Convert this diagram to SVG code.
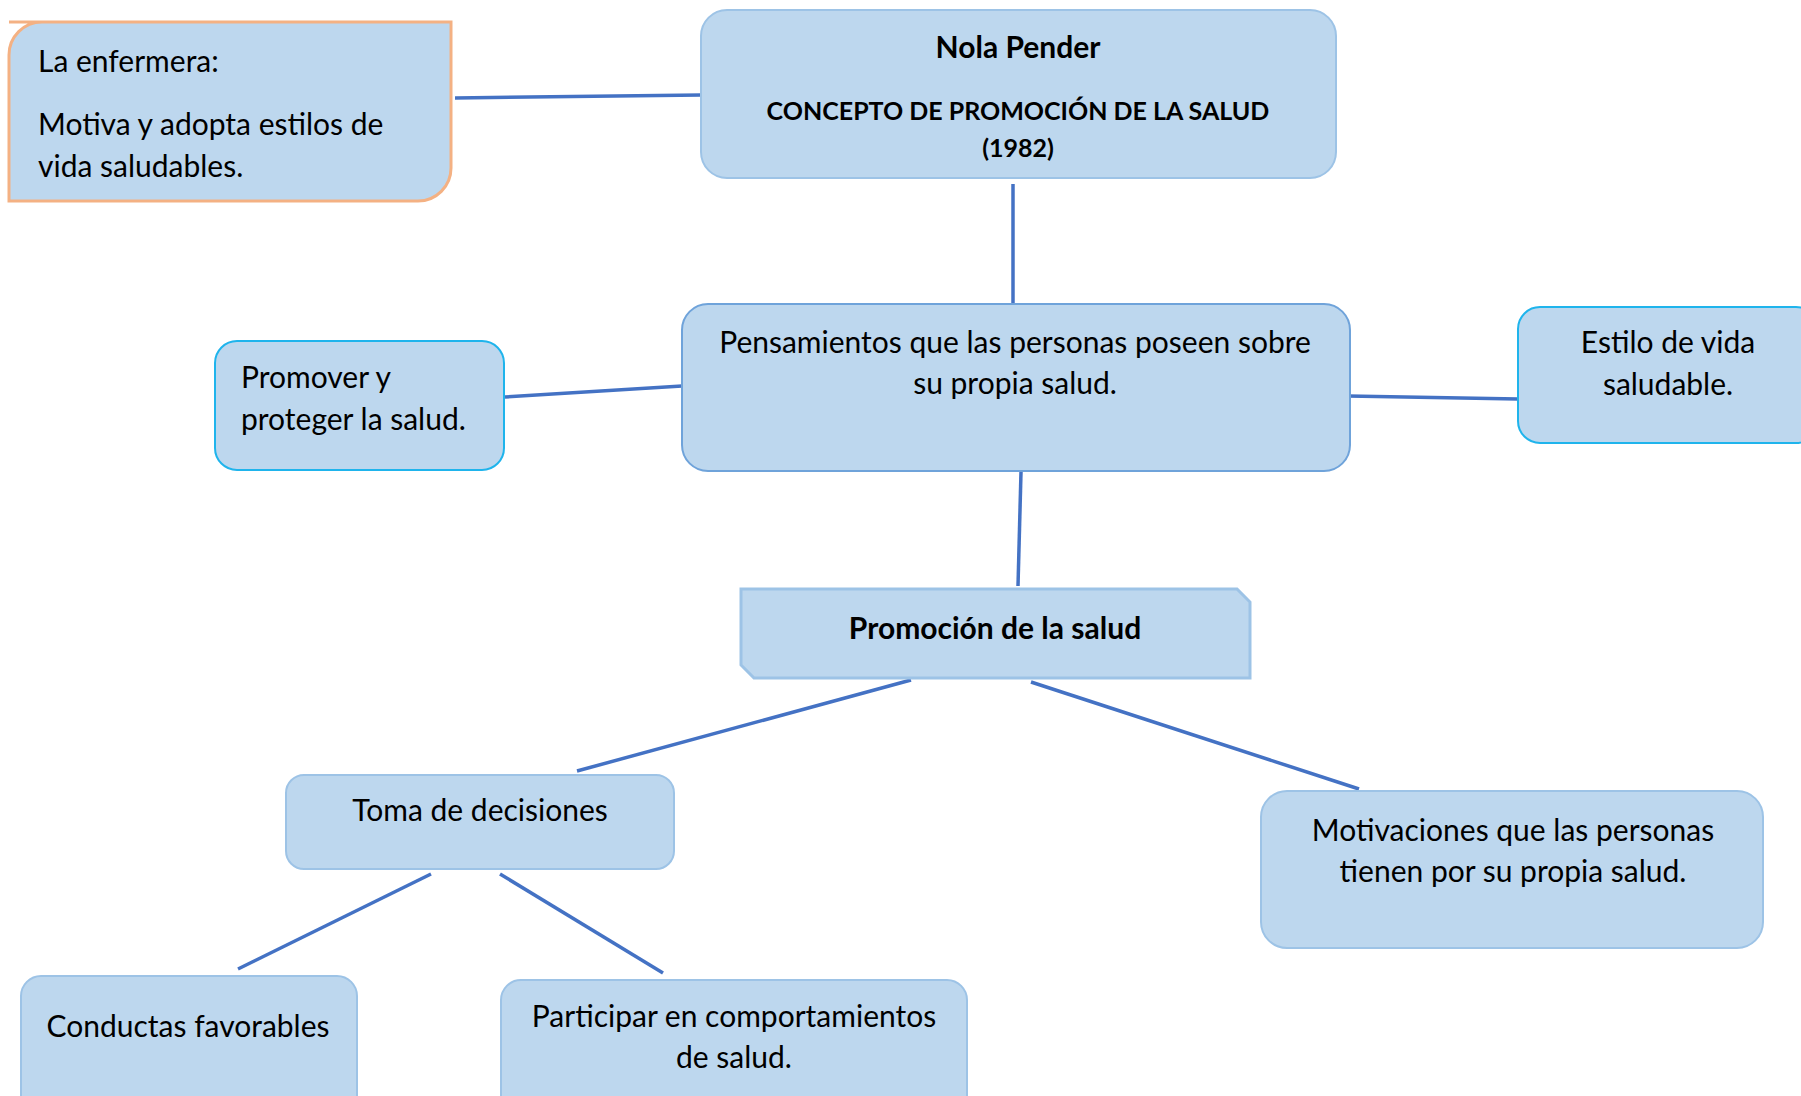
<svg xmlns="http://www.w3.org/2000/svg" width="1801" height="1096" viewBox="0 0 1801 1096">
<style>
.box{fill:#BDD7EE;stroke:#9DC3E6;stroke-width:2}
.cyan{stroke:#1FB4EC}
.mid{stroke:#6FA3DA}
.t{font-family:Lato,"Liberation Sans",sans-serif;font-size:30px;fill:#000}
.s{font-size:25px}
.c{text-anchor:middle}
.b{font-weight:bold}
.conn line{stroke:#4472C4;stroke-width:3.5;stroke-linecap:butt}
</style>
<rect width="1801" height="1096" fill="#fff"/>
<g class="conn">
<line x1="455" y1="98" x2="701" y2="95"/>
<line x1="1013" y1="184" x2="1013" y2="307"/>
<line x1="505" y1="397" x2="682" y2="386"/>
<line x1="1348" y1="396" x2="1518" y2="399"/>
<line x1="1021" y1="472" x2="1018" y2="586"/>
<line x1="911" y1="680" x2="577" y2="771"/>
<line x1="1031" y1="682" x2="1359" y2="789"/>
<line x1="431" y1="874" x2="238" y2="969"/>
<line x1="500" y1="874" x2="663" y2="973"/>
</g>
<g id="enfermera">
<path d="M9,22 H451 V168 A33,33 0 0 1 418,201 H9 V55 A33,33 0 0 1 42,22 Z" fill="#BDD7EE" stroke="#F4B183" stroke-width="3"/>
<text class="t" x="38" y="72">La enfermera:</text>
<text class="t" x="38" y="135">Motiva y adopta estilos de</text>
<text class="t" x="38" y="177">vida saludables.</text>
</g>
<g id="nola">
<rect class="box" x="701" y="10" width="635" height="168" rx="26"/>
<text class="t c b" x="1018" y="58">Nola Pender</text>
<text class="t c b s" x="1018" y="120">CONCEPTO DE PROMOCIÓN DE LA SALUD</text>
<text class="t c b s" x="1018" y="157">(1982)</text>
</g>
<g id="pensamientos">
<rect class="box mid" x="682" y="304" width="668" height="167" rx="26"/>
<text class="t c" x="1015" y="353">Pensamientos que las personas poseen sobre</text>
<text class="t c" x="1015" y="394">su propia salud.</text>
</g>
<g id="promover">
<rect class="box cyan" x="215" y="341" width="289" height="129" rx="22"/>
<text class="t" x="241" y="388">Promover y</text>
<text class="t" x="241" y="430">proteger la salud.</text>
</g>
<g id="estilo">
<rect class="box cyan" x="1518" y="307" width="300" height="136" rx="22"/>
<text class="t c" x="1668" y="353">Estilo de vida</text>
<text class="t c" x="1668" y="395">saludable.</text>
</g>
<g id="promocion">
<path d="M741,589 H1237 L1250,602 V678 H754 L741,665 Z" fill="#BDD7EE" stroke="#9DC3E6" stroke-width="3"/>
<text class="t c b" x="995" y="639">Promoción de la salud</text>
</g>
<g id="toma">
<rect class="box" x="286" y="775" width="388" height="94" rx="18"/>
<text class="t c" x="480" y="821">Toma de decisiones</text>
</g>
<g id="motivaciones">
<rect class="box" x="1261" y="791" width="502" height="157" rx="26"/>
<text class="t c" x="1513" y="841">Motivaciones que las personas</text>
<text class="t c" x="1513" y="882">tienen por su propia salud.</text>
</g>
<g id="conductas">
<rect class="box" x="21" y="976" width="336" height="140" rx="20"/>
<text class="t c" x="188" y="1037">Conductas favorables</text>
</g>
<g id="participar">
<rect class="box" x="501" y="980" width="466" height="136" rx="20"/>
<text class="t c" x="734" y="1027">Participar en comportamientos</text>
<text class="t c" x="734" y="1068">de salud.</text>
</g>
</svg>
